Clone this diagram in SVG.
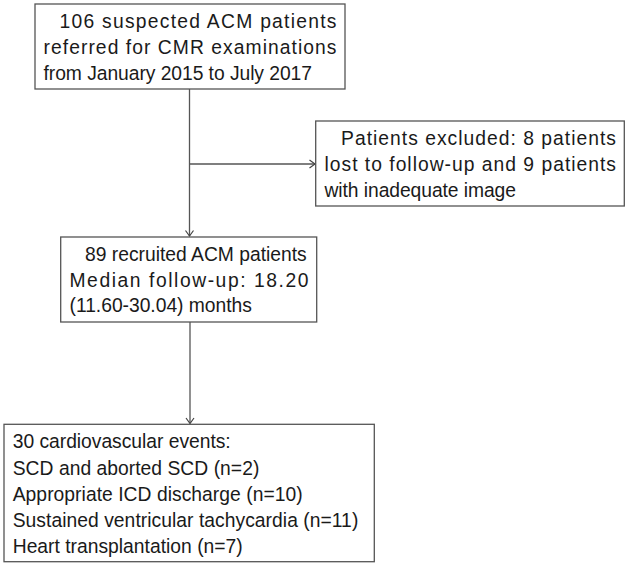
<svg xmlns="http://www.w3.org/2000/svg" width="630" height="567" viewBox="0 0 630 567">
<defs>
<style>
.box{fill:#fff;stroke:#555;stroke-width:1.3}
.t{font-family:"Liberation Sans",Arial,sans-serif;font-size:19.3px;fill:#1a1a1a}
.c{stroke:#555;stroke-width:1.3;fill:none}
</style>
<marker id="ah" markerWidth="10" markerHeight="10" refX="7" refY="5" orient="auto" markerUnits="userSpaceOnUse">
<path d="M1.5,1 L7,5 L1.5,9" fill="none" stroke="#444" stroke-width="1.2"/>
</marker>
</defs>
<rect width="630" height="567" fill="#fff"/>
<g id="connectors">
<line class="c" x1="189.5" y1="89" x2="189.5" y2="236" marker-end="url(#ah)"/>
<line class="c" x1="189.5" y1="164" x2="315" y2="164" marker-end="url(#ah)"/>
<line class="c" x1="190" y1="322" x2="190" y2="423.5" marker-end="url(#ah)"/>
</g>
<g id="n1">
<rect class="box" x="35" y="4" width="310" height="85"/>
<text class="t" x="59.5" y="28" textLength="277" lengthAdjust="spacing">106 suspected ACM patients</text>
<text class="t" x="43.5" y="54" textLength="293" lengthAdjust="spacing">referred for CMR examinations</text>
<text class="t" x="43.5" y="80" textLength="268.5" lengthAdjust="spacing">from January 2015 to July 2017</text>
</g>
<g id="n2">
<rect class="box" x="315.7" y="121" width="308.6" height="85"/>
<text class="t" x="341" y="145" textLength="275" lengthAdjust="spacing">Patients excluded: 8 patients</text>
<text class="t" x="324.5" y="171" textLength="291.5" lengthAdjust="spacing">lost to follow-up and 9 patients</text>
<text class="t" x="324.5" y="197" textLength="191.5" lengthAdjust="spacing">with inadequate image</text>
</g>
<g id="n3">
<rect class="box" x="60.7" y="237" width="256" height="85"/>
<text class="t" x="85" y="261" textLength="221.7" lengthAdjust="spacing">89 recruited ACM patients</text>
<text class="t" x="69.5" y="287" textLength="239" lengthAdjust="spacing">Median follow-up: 18.20</text>
<text class="t" x="69.5" y="312" textLength="182.4" lengthAdjust="spacing">(11.60-30.04) months</text>
</g>
<g id="n4">
<rect class="box" x="4" y="424.3" width="370.3" height="137.4"/>
<text class="t" x="12.7" y="448" textLength="218" lengthAdjust="spacing">30 cardiovascular events:</text>
<text class="t" x="12.7" y="474.5" textLength="246.6" lengthAdjust="spacing">SCD and aborted SCD (n=2)</text>
<text class="t" x="12.7" y="500.7" textLength="290" lengthAdjust="spacing">Appropriate ICD discharge (n=10)</text>
<text class="t" x="12.7" y="526.7" textLength="345.6" lengthAdjust="spacing">Sustained ventricular tachycardia (n=11)</text>
<text class="t" x="12.7" y="552.7" textLength="230" lengthAdjust="spacing">Heart transplantation (n=7)</text>
</g>
</svg>
